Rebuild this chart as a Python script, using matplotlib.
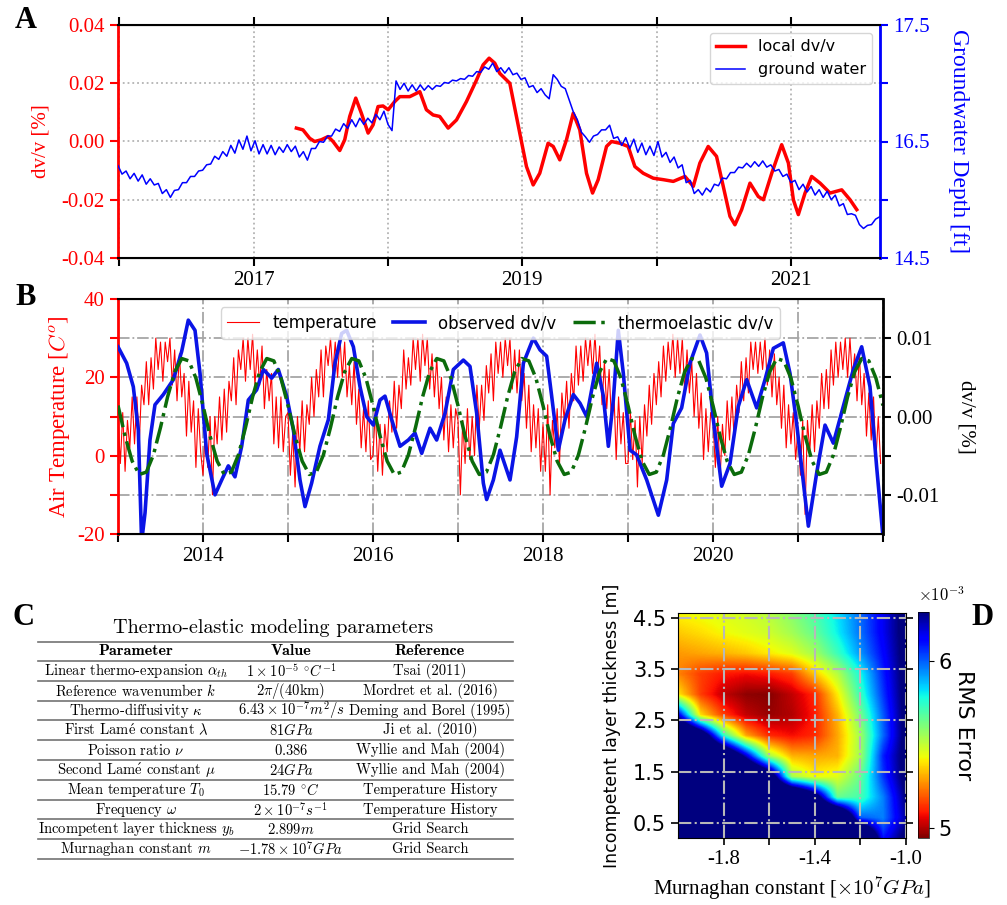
import numpy as np
import matplotlib
matplotlib.use("Agg")
import matplotlib.pyplot as plt

plt.rcParams['font.family'] = ['Liberation Serif', 'DejaVu Serif']
plt.rcParams['mathtext.fontset'] = 'cm'
plt.rcParams['axes.unicode_minus'] = False

SANS = 'DejaVu Sans'
TEX = ['cmr10', 'DejaVu Serif']

# ---------------- Panel A: local dv/v vs ground water ----------------
dvv_year = [
    2017.318, 2017.367, 2017.417, 2017.454, 2017.504, 2017.554, 2017.591, 2017.641,
    2017.678, 2017.715, 2017.760, 2017.802, 2017.852, 2017.889, 2017.926, 2017.963,
    2018.001, 2018.050, 2018.088, 2018.162, 2018.237, 2018.286, 2018.336, 2018.385,
    2018.448, 2018.510, 2018.584, 2018.659, 2018.708, 2018.753, 2018.795, 2018.832,
    2018.907, 2018.981, 2019.031, 2019.081, 2019.130, 2019.192, 2019.230, 2019.279,
    2019.329, 2019.379, 2019.428, 2019.478, 2019.523, 2019.565, 2019.627, 2019.664,
    2019.726, 2019.788, 2019.838, 2019.900, 2019.975, 2020.049, 2020.124, 2020.211,
    2020.273, 2020.322, 2020.384, 2020.446, 2020.496, 2020.546, 2020.583, 2020.633,
    2020.695, 2020.757, 2020.795, 2020.857, 2020.931, 2020.981, 2021.018, 2021.055,
    2021.105, 2021.154, 2021.217, 2021.291, 2021.378, 2021.440, 2021.490,
]
dvv_local = [
    0.0046, 0.0040, 0.0011, 0.0000, 0.0006, 0.0017, 0.0000, -0.0031,
    0.0006, 0.0086, 0.0149, 0.0097, 0.0029, 0.0057, 0.0120, 0.0122,
    0.0109, 0.0137, 0.0154, 0.0154, 0.0171, 0.0109, 0.0091, 0.0086,
    0.0046, 0.0074, 0.0137, 0.0211, 0.0263, 0.0286, 0.0269, 0.0234,
    0.0200, 0.0029, -0.0086, -0.0149, -0.0109, -0.0006, -0.0017, -0.0063,
    0.0006, 0.0097, 0.0040, -0.0109, -0.0177, -0.0131, -0.0017, 0.0000,
    -0.0006, -0.0017, -0.0086, -0.0109, -0.0126, -0.0131, -0.0137, -0.0120,
    -0.0154, -0.0074, -0.0017, -0.0051, -0.0154, -0.0257, -0.0286, -0.0234,
    -0.0143, -0.0189, -0.0200, -0.0109, -0.0011, -0.0074, -0.0200, -0.0251,
    -0.0177, -0.0120, -0.0143, -0.0177, -0.0166, -0.0200, -0.0234,
]
gw_t0 = 2015.99   # first groundwater sample (decimal year)
gw_dt = 0.03      # sample spacing (yr)
gw_depth = [
    15.69, 15.58, 15.62, 15.52, 15.59, 15.49, 15.57, 15.45, 15.52, 15.44,
    15.46, 15.33, 15.38, 15.28, 15.37, 15.38, 15.47, 15.47, 15.55, 15.55,
    15.62, 15.63, 15.70, 15.71, 15.81, 15.77, 15.87, 15.81, 15.95, 15.85,
    16.02, 15.90, 16.07, 15.88, 16.01, 15.84, 15.96, 15.84, 15.95, 15.83,
    15.93, 15.86, 15.96, 15.87, 15.94, 15.80, 15.87, 15.76, 15.91, 15.91,
    16.00, 15.99, 16.07, 16.07, 16.16, 16.13, 16.23, 16.17, 16.28, 16.19,
    16.30, 16.22, 16.30, 16.24, 16.35, 16.28, 16.39, 16.22, 16.14, 16.78,
    16.67, 16.75, 16.65, 16.73, 16.65, 16.73, 16.66, 16.72, 16.67, 16.72,
    16.71, 16.76, 16.75, 16.79, 16.78, 16.81, 16.80, 16.85, 16.84, 16.90,
    16.89, 16.96, 16.93, 17.01, 16.90, 16.95, 16.88, 16.95, 16.86, 16.88,
    16.80, 16.82, 16.70, 16.72, 16.63, 16.68, 16.60, 16.55, 16.86, 16.80,
    16.71, 16.68, 16.53, 16.38, 16.28, 16.12, 16.06, 15.99, 16.07, 16.09,
    16.15, 16.15, 16.21, 16.04, 16.06, 15.95, 16.05, 15.91, 16.03, 15.86,
    15.98, 15.83, 15.94, 15.82, 16.00, 15.80, 15.86, 15.73, 15.80, 15.66,
    15.70, 15.47, 15.50, 15.33, 15.38, 15.31, 15.40, 15.35, 15.45, 15.43,
    15.53, 15.52, 15.60, 15.60, 15.67, 15.66, 15.72, 15.67, 15.74, 15.68,
    15.75, 15.67, 15.70, 15.62, 15.64, 15.55, 15.58, 15.47, 15.50, 15.38,
    15.45, 15.35, 15.42, 15.31, 15.38, 15.28, 15.36, 15.25, 15.31, 15.17,
    15.20, 15.06, 15.07, 15.05, 14.93, 14.88, 14.92, 14.93, 15.00, 15.03,
]

# ---------------- Panel B: temperature, observed and thermoelastic dv/v ----------------
temp_start = 2013.0
temp_per_year = 36
temp_c = [
    10, -2, 11, -4, 9, 2, 15, 3, 15, 3, 18, 13, 24, 13, 25, 17, 30, 22, 29, 19, 29, 24, 30, 18, 27, 14, 26, 15, 21, 5, 19, 6, 14, -3, 12, 1,
    -5, 7, -3, 10, -10, 10, 3, 15, 4, 17, 6, 19, 14, 25, 13, 27, 22, 30, 19, 30, 22, 31, 18, 27, 18, 28, 12, 22, 14, 21, 3, 15, 2, 15, 1, 10,
    11, -5, 6, -8, 10, 1, 14, 1, 13, 8, 20, 10, 22, 15, 27, 15, 28, 23, 30, 21, 29, 20, 30, 20, 29, 15, 23, 13, 24, 8, 17, 2, 12, 1, 14, -1,
    0, 12, -4, 8, -5, 8, 1, 14, 6, 19, 7, 18, 12, 27, 17, 25, 18, 30, 22, 30, 19, 31, 23, 30, 17, 26, 15, 25, 12, 20, 4, 15, 1, 13, 2, 12,
    9, -10, 9, -2, 12, -1, 10, 0, 18, 7, 18, 9, 23, 16, 26, 14, 29, 21, 29, 20, 30, 23, 30, 17, 27, 16, 27, 14, 21, 7, 18, 1, 13, 2, 12, -4,
    8, -4, 13, -10, 9, 2, 12, -2, 16, 9, 19, 7, 21, 14, 28, 18, 28, 19, 30, 23, 30, 21, 31, 20, 28, 13, 24, 12, 22, 9, 17, -1, 15, 3, 11, -2,
    -2, 11, -1, 9, -8, 10, -2, 13, 5, 18, 8, 21, 13, 24, 15, 28, 19, 29, 22, 31, 20, 30, 21, 30, 16, 27, 16, 24, 10, 21, 7, 16, -1, 12, 1, 11,
    9, -3, 10, -6, 8, 0, 14, 4, 15, 4, 18, 11, 24, 14, 25, 16, 29, 22, 29, 21, 29, 22, 30, 18, 27, 15, 26, 13, 20, 7, 18, 2, 13, 3, 11, -1,
    7, -5, 9, -15, 9, 1, 13, 1, 14, 7, 21, 12, 22, 12, 27, 18, 29, 20, 29, 22, 30, 20, 30, 20, 26, 14, 26, 13, 21, 5, 16, 4, 15, -1, 10, -2,
]
obs_year = [
    2013.000, 2013.102, 2013.180, 2013.239, 2013.278, 2013.318, 2013.376, 2013.435, 2013.533, 2013.651,
    2013.749, 2013.827, 2013.906, 2013.965, 2014.043, 2014.141, 2014.220, 2014.298, 2014.376, 2014.455,
    2014.533, 2014.631, 2014.710, 2014.808, 2014.886, 2014.984, 2015.063, 2015.141, 2015.200, 2015.278,
    2015.376, 2015.475, 2015.553, 2015.631, 2015.690, 2015.769, 2015.847, 2015.925, 2016.004, 2016.082,
    2016.141, 2016.220, 2016.318, 2016.416, 2016.494, 2016.573, 2016.671, 2016.749, 2016.847, 2016.945,
    2017.063, 2017.141, 2017.220, 2017.298, 2017.337, 2017.416, 2017.494,
    2017.612, 2017.690, 2017.769, 2017.886, 2017.965, 2018.043, 2018.102, 2018.180, 2018.259, 2018.357,
    2018.435, 2018.514, 2018.631, 2018.710, 2018.769, 2018.827, 2018.886, 2018.945, 2019.024, 2019.102,
    2019.220, 2019.357, 2019.455, 2019.533, 2019.631, 2019.729, 2019.847, 2019.925, 2020.004, 2020.102,
    2020.200, 2020.298, 2020.396, 2020.514, 2020.612, 2020.710, 2020.827, 2020.906, 2020.984, 2021.122,
    2021.220, 2021.318, 2021.416, 2021.533, 2021.651, 2021.749, 2021.847, 2021.925, 2021.996,
]
obs_dvv = [
    0.0089, 0.0068, 0.0038, -0.0017, -0.0160, -0.0123, -0.0030, 0.0015, 0.0028, 0.0047,
    0.0083, 0.0123, 0.0110, 0.0055, -0.0047, -0.0100, -0.0081, -0.0063, -0.0077, -0.0038,
    0.0021, 0.0034, 0.0060, 0.0049, 0.0060, 0.0026, -0.0017, -0.0081, -0.0115, -0.0085,
    -0.0038, -0.0004, 0.0068, 0.0106, 0.0110, 0.0089, 0.0038, 0.0000, -0.0011, 0.0021,
    0.0026, -0.0004, -0.0038, -0.0030, -0.0021, -0.0047, -0.0015, -0.0030, 0.0004, 0.0060,
    0.0072, 0.0064, 0.0004, -0.0085, -0.0106, -0.0081, -0.0043,
    -0.0081, -0.0026, 0.0068, 0.0100, 0.0085, 0.0077, 0.0026, -0.0043, -0.0004, 0.0028,
    0.0017, 0.0000, 0.0068, 0.0026, -0.0038, 0.0021, 0.0110, 0.0055, -0.0043, -0.0049,
    -0.0081, -0.0126, -0.0081, -0.0009, 0.0011, 0.0068, 0.0104, 0.0081, -0.0004, -0.0089,
    -0.0060, 0.0013, 0.0047, 0.0011, 0.0047, 0.0087, 0.0094, 0.0055, -0.0009, -0.0140,
    -0.0072, -0.0011, -0.0034, 0.0013, 0.0060, 0.0089, 0.0038, -0.0064, -0.0149,
]
thermo_start = 2013.0
thermo_per_year = 12
thermo_dvv = [
    0.0014, -0.0025, -0.0057, -0.0074, -0.0071, -0.0049, -0.0014, 0.0025, 0.0057, 0.0074, 0.0071, 0.0049,
    0.0014, -0.0025, -0.0057, -0.0074, -0.0071, -0.0049, -0.0014, 0.0025, 0.0057, 0.0074, 0.0071, 0.0049,
    0.0014, -0.0025, -0.0057, -0.0074, -0.0071, -0.0049, -0.0014, 0.0025, 0.0057, 0.0074, 0.0071, 0.0049,
    0.0014, -0.0025, -0.0057, -0.0074, -0.0071, -0.0049, -0.0014, 0.0025, 0.0057, 0.0074, 0.0071, 0.0049,
    0.0014, -0.0025, -0.0057, -0.0074, -0.0071, -0.0049, -0.0014, 0.0025, 0.0057, 0.0074, 0.0071, 0.0049,
    0.0014, -0.0025, -0.0057, -0.0074, -0.0071, -0.0049, -0.0014, 0.0025, 0.0057, 0.0074, 0.0071, 0.0049,
    0.0014, -0.0025, -0.0057, -0.0074, -0.0071, -0.0049, -0.0014, 0.0025, 0.0057, 0.0074, 0.0071, 0.0049,
    0.0014, -0.0025, -0.0057, -0.0074, -0.0071, -0.0049, -0.0014, 0.0025, 0.0057, 0.0074, 0.0071, 0.0049,
    0.0014, -0.0025, -0.0057, -0.0074, -0.0071, -0.0049, -0.0014, 0.0025, 0.0057, 0.0074, 0.0071, 0.0049,
    0.0014,
]

# ---------------- Panel C: parameter table ----------------
table_title = "Thermo-elastic modeling parameters"
col_names = ["Parameter", "Value", "Reference"]
param_names = [
    r"Linear thermo-expansion $\alpha_{th}$",
    r"Reference wavenumber $k$",
    r"Thermo-diffusivity $\kappa$",
    r"First Lam$\mathrm{\acute{e}}$ constant $\lambda$",
    r"Poisson ratio $\nu$",
    r"Second Lam$\mathrm{\acute{e}}$ constant $\mu$",
    r"Mean temperature $T_0$",
    r"Frequency $\omega$",
    r"Incompetent layer thickness $y_b$",
    r"Murnaghan constant $m$",
]
param_values = [
    r"$1\times10^{-5}\ ^{\circ}C^{-1}$",
    r"$2\pi/(40\mathrm{km})$",
    r"$6.43\times10^{-7}m^2/s$",
    r"$81GPa$",
    r"$0.386$",
    r"$24GPa$",
    r"$15.79\ ^{\circ}C$",
    r"$2\times10^{-7}s^{-1}$",
    r"$2.899m$",
    r"$-1.78\times10^{7}GPa$",
]
param_refs = [
    "Tsai (2011)",
    "Mordret et al. (2016)",
    "Deming and Borel (1995)",
    "Ji et al. (2010)",
    "Wyllie and Mah (2004)",
    "Wyllie and Mah (2004)",
    "Temperature History",
    "Temperature History",
    "Grid Search",
    "Grid Search",
]

# ---------------- Panel D: grid search RMS error (x1e-3) ----------------
murnaghan = [-2.0, -1.9, -1.8, -1.7, -1.6, -1.5, -1.4, -1.3, -1.2, -1.1, -1.0]
thickness = [0.2, 0.6, 1.0, 1.4, 1.8, 2.2, 2.6, 3.0, 3.4, 3.8, 4.2, 4.6]
rms_err = [
    [7.00, 7.00, 7.00, 7.00, 7.00, 7.00, 7.00, 7.00, 7.00, 6.10, 6.35],
    [7.00, 7.00, 7.00, 7.00, 7.00, 7.00, 7.00, 7.00, 6.00, 5.95, 6.25],
    [7.00, 7.00, 7.00, 7.00, 7.00, 7.00, 6.50, 5.65, 5.70, 5.95, 6.30],
    [7.00, 7.00, 7.00, 7.00, 6.60, 5.55, 5.42, 5.45, 5.65, 6.05, 6.35],
    [7.00, 7.00, 6.80, 6.20, 5.55, 5.32, 5.30, 5.32, 5.55, 6.08, 6.35],
    [7.00, 6.60, 5.75, 5.30, 5.12, 5.08, 5.12, 5.30, 5.55, 5.98, 6.35],
    [6.20, 5.38, 5.15, 5.02, 4.97, 5.00, 5.10, 5.32, 5.62, 6.00, 6.35],
    [5.40, 5.15, 5.02, 4.96, 4.95, 5.02, 5.12, 5.40, 5.72, 6.05, 6.35],
    [5.25, 5.15, 5.10, 5.08, 5.10, 5.15, 5.35, 5.52, 5.78, 6.08, 6.35],
    [5.28, 5.30, 5.32, 5.35, 5.40, 5.45, 5.55, 5.72, 5.92, 6.12, 6.35],
    [5.35, 5.38, 5.42, 5.45, 5.48, 5.55, 5.65, 5.80, 5.97, 6.15, 6.35],
    [5.42, 5.44, 5.46, 5.48, 5.52, 5.60, 5.70, 5.82, 5.98, 6.15, 6.35],
]

W, H = 1007, 905
fig = plt.figure(figsize=(W / 100, H / 100), dpi=100)


def frame(l, t, r, b):
    # axes rectangle from pixel edges
    return [l / W, 1 - b / H, (r - l) / W, (b - t) / H]


# background axes in pixel units for panel letters and the table
axc = fig.add_axes([0, 0, 1, 1], zorder=-1)
axc.set_xlim(0, W)
axc.set_ylim(H, 0)
axc.axis('off')

# ---- A ----
ax_a = fig.add_axes(frame(118, 25, 880, 258))
ax_a2 = ax_a.twinx()
la, = ax_a.plot(dvv_year, dvv_local, color='red', lw=2.5, label='local dv/v')
gw_t = gw_t0 + gw_dt * np.arange(len(gw_depth))
lb, = ax_a2.plot(gw_t, gw_depth, color='blue', lw=1.1, label='ground water')
ax_a.set_xlim(2015.99, 2021.663)
ax_a.set_ylim(-0.04, 0.04)
ax_a2.set_ylim(14.5, 17.5)
years_a = list(range(2016, 2022))
ax_a.set_xticks(years_a, [str(y) if y % 2 == 1 else '' for y in years_a], fontsize=15)
ax_a.set_yticks([-0.04, -0.02, 0.0, 0.02, 0.04],
                ['-0.04', '-0.02', '0.00', '0.02', '0.04'], fontsize=15)
ax_a2.set_yticks(np.linspace(14.5, 17.5, 5), ['14.5', '', '16.5', '', '17.5'], fontsize=15)
ax_a.tick_params(axis='x', top=True, direction='out', length=6, width=1.5)
ax_a.tick_params(axis='y', colors='red', direction='out', length=6, width=1.5)
ax_a2.tick_params(axis='y', colors='blue', direction='out', length=6, width=1.5)
ax_a.grid(True, ls=':', color='0.7', lw=1.3)
ax_a.spines['left'].set_color('red')
ax_a.spines['left'].set_linewidth(2)
ax_a2.spines['left'].set_visible(False)
ax_a2.spines['right'].set_color('blue')
ax_a2.spines['right'].set_linewidth(2)
for s in ('top', 'bottom'):
    ax_a2.spines[s].set_linewidth(1.5)
ax_a.set_ylabel('dv/v [%]', color='red', fontsize=15, labelpad=8)
ax_a2.set_ylabel('Groundwater Depth [ft]', color='blue', fontsize=17, rotation=270, labelpad=28)
ax_a2.legend(handles=[la, lb], loc='upper right', handlelength=1.8,
             prop={'family': SANS, 'size': 11.5})

# ---- B ----
ax_b = fig.add_axes(frame(118, 299, 883, 534))
ax_b2 = ax_b.twinx()
temp_t = temp_start + np.arange(len(temp_c)) / temp_per_year
thermo_t = thermo_start + np.arange(len(thermo_dvv)) / thermo_per_year
lt, = ax_b.plot(temp_t, temp_c, color='red', lw=0.8, label='temperature')
lo, = ax_b2.plot(obs_year, obs_dvv, color='#0a14e6', lw=2.6, label='observed dv/v')
lg, = ax_b2.plot(thermo_t, thermo_dvv, color='#0b6b0b', lw=2.5, ls='-.', label='thermoelastic dv/v')
ax_b.set_xlim(2013, 2022)
ax_b.set_ylim(-20, 40)
ax_b2.set_ylim(-0.015, 0.015)
years_b = list(range(2013, 2023))
ax_b.set_xticks(years_b, [str(y) if (y % 2 == 0 and y < 2022) else '' for y in years_b], fontsize=15)
ax_b.set_yticks(list(range(-20, 41, 10)), ['-20', '', '0', '', '20', '', '40'], fontsize=15)
ax_b2.set_yticks([-0.01, -0.005, 0.0, 0.005, 0.01], ['-0.01', '', '0.00', '', '0.01'], fontsize=15)
ax_b.tick_params(axis='x', direction='out', length=6, width=1.5)
ax_b.tick_params(axis='y', colors='red', direction='out', length=6, width=1.5)
ax_b2.tick_params(axis='y', colors='black', direction='out', length=6, width=1.5)
ax_b.grid(True, ls='-.', color='0.65', lw=1.3)
ax_b.spines['left'].set_color('red')
ax_b.spines['left'].set_linewidth(2)
ax_b2.spines['left'].set_visible(False)
ax_b2.spines['right'].set_linewidth(2)
for s in ('top', 'bottom'):
    ax_b2.spines[s].set_linewidth(1.5)
ax_b.set_ylabel('Air Temperature [$C^o$]', color='red', fontsize=16.5, labelpad=4)
ax_b2.set_ylabel('dv/v [%]', fontsize=15, rotation=270, labelpad=26)
ax_b2.legend(handles=[lt, lo, lg], loc='upper center', ncol=3, columnspacing=1.0,
             handlelength=1.9, prop={'family': SANS, 'size': 12})

# ---- C (table) ----
col_x = [136, 291, 430]
x0, x1 = 38, 513
axc.text(273, 628, table_title, family=TEX, fontsize=14.5, ha='center', va='center')
for cx, name in zip(col_x, col_names):
    axc.text(cx, 651, name, family=['cmb10', 'DejaVu Serif'], fontsize=11.5,
             ha='center', va='center')
row_h = 19.8
line_y = [642, 661] + [661 + row_h * (i + 1) for i in range(len(param_names))]
for yl in line_y:
    axc.plot([x0, x1], [yl, yl], color='0.45', lw=1.2)
for i, (p, v, r) in enumerate(zip(param_names, param_values, param_refs)):
    yc = 661 + row_h * (i + 0.5)
    axc.text(col_x[0], yc, p, family=TEX, fontsize=10.5, ha='center', va='center')
    axc.text(col_x[1], yc, v, family=TEX, fontsize=10.5, ha='center', va='center')
    axc.text(col_x[2], yc, r, family=TEX, fontsize=10.5, ha='center', va='center')

# ---- D (grid search) ----
ax_d = fig.add_axes(frame(678, 613, 906, 838))
dx = murnaghan[1] - murnaghan[0]
dy = thickness[1] - thickness[0]
im = ax_d.imshow(np.array(rms_err) * 1e-3, origin='lower', cmap='jet_r',
                 vmin=4.94e-3, vmax=6.29e-3, aspect='auto',
                 extent=[murnaghan[0] - dx / 2, murnaghan[-1] + dx / 2,
                         thickness[0] - dy / 2, thickness[-1] + dy / 2],
                 interpolation='bilinear', interpolation_stage='data')
ax_d.set_xlim(-2.0, -1.0)
ax_d.set_ylim(0.2, 4.6)
ax_d.set_xticks([-1.8, -1.6, -1.4, -1.2, -1.0], ['-1.8', '', '-1.4', '', '-1.0'], fontsize=15)
ax_d.set_yticks([0.5, 1.5, 2.5, 3.5, 4.5], ['0.5', '1.5', '2.5', '3.5', '4.5'],
                fontsize=15, family=SANS)
ax_d.tick_params(axis='y', right=True, direction='out', length=5, width=1.2)
ax_d.tick_params(axis='x', direction='out', length=5, width=1.2)
ax_d.grid(True, ls='-.', color='0.72', lw=1.5)
ax_d.set_xlabel(r'Murnaghan constant [$\times10^7GPa$]', fontsize=15, labelpad=4)
ax_d.set_ylabel('Incompetent layer thickness [m]', fontsize=12.5, family=SANS, labelpad=9)

cax = fig.add_axes(frame(918, 612, 929, 838))
cb = fig.colorbar(im, cax=cax)
cb.set_ticks([5e-3, 6e-3], labels=['5', '6'])
cax.tick_params(labelsize=15)
for t in cax.get_yticklabels():
    t.set_family(SANS)
cb.outline.set_linewidth(0.5)
cb.set_label('RMS Error', rotation=270, fontsize=16, family=SANS, labelpad=16)
cax.text(0.0, 1.03, r'$\times10^{-3}$', transform=cax.transAxes, fontsize=12,
         ha='left', va='bottom')

# panel letters
for letter, (px, py) in zip('ABCD', [(26, 21), (26, 297), (23, 617), (983, 617)]):
    axc.text(px, py, letter, fontsize=22, fontweight='bold', ha='center', va='center')

fig.savefig('out.png', dpi=100)
